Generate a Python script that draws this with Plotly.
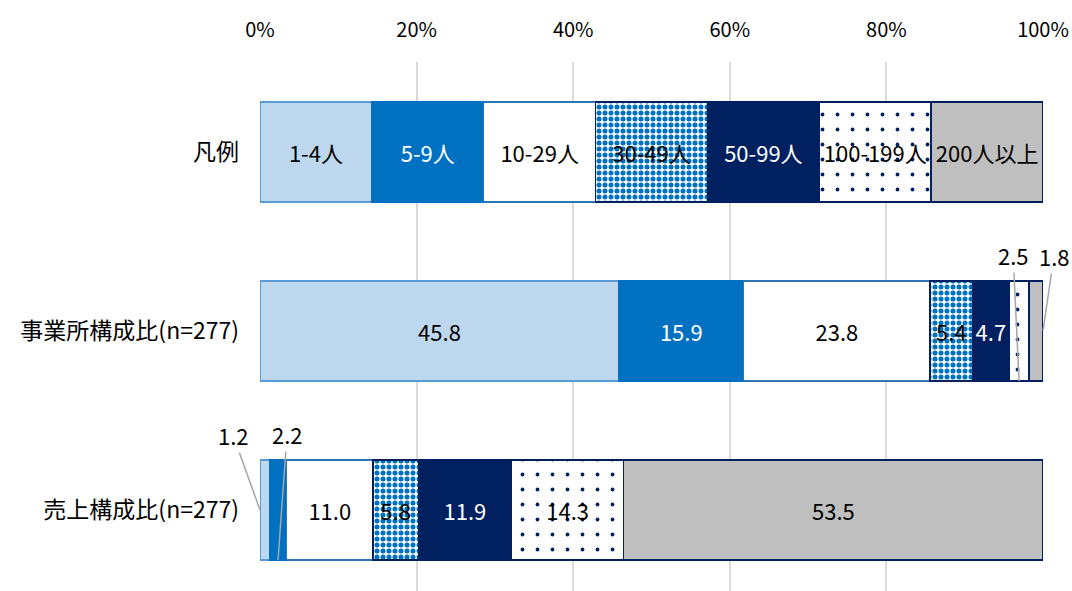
import plotly.graph_objects as go

# ---- data ----
row_labels = ["凡例", "事業所構成比(n=277)", "売上構成比(n=277)"]
size_classes = ["1-4人", "5-9人", "10-29人", "30-49人", "50-99人", "100-199人", "200人以上"]
legend_share = [1, 1, 1, 1, 1, 1, 1]
office_share = [45.8, 15.9, 23.8, 5.4, 4.7, 2.5, 1.8]
sales_share = [1.2, 2.2, 11.0, 5.8, 11.9, 14.3, 53.5]
x_ticks = [0, 20, 40, 60, 80, 100]
x_tick_labels = ["0%", "20%", "40%", "60%", "80%", "100%"]

# ---- styles ----
fills = ["#BDD7EE", "#0070C0", "#FFFFFF", "#FFFFFF", "#002060", "#FFFFFF", "#BFBFBF"]
outlines = ["#5B9BD5", "#0070C0", "#2E75B6", "#002060", "#002060", "#002060", "#002060"]
text_colors = ["black", "white", "black", "black", "white", "black", "black"]
patterns = [
    None, None, None,
    dict(shape=".", fgcolor="#0070C0", bgcolor="#FFFFFF", size=6, solidity=0.55, fillmode="replace"),
    None,
    dict(shape=".", fgcolor="#002060", bgcolor="#FFFFFF", size=15, solidity=0.05, fillmode="replace"),
    None,
]
FONT = "Noto Sans CJK JP"
BAR_W = 0.56
SMALL = 3.0

fig = go.Figure()
ypos = [0, 1, 2]
for i, name in enumerate(size_classes):
    vals = [legend_share[i], office_share[i], sales_share[i]]
    texts = [name]
    for v in (office_share[i], sales_share[i]):
        texts.append("" if v < SMALL else f"{v:.1f}")
    marker = dict(color=fills[i], line=dict(color=outlines[i], width=1.5))
    if patterns[i] is not None:
        marker["pattern"] = patterns[i]
    fig.add_trace(go.Bar(
        name=name, x=vals, y=ypos, orientation="h", width=BAR_W,
        marker=marker, text=texts, texttemplate="%{text}",
        textposition="inside", insidetextanchor="middle", textangle=0,
        insidetextfont=dict(color=text_colors[i], size=22, family=FONT),
        constraintext="none", hoverinfo="skip", showlegend=False,
    ))

# ---- leader-line labels for small segments ----
def centers(vals):
    tot = sum(vals)
    out, c = [], 0.0
    for v in vals:
        out.append((c + v / 2) / tot * 100)
        c += v
    return out

oc = centers(office_share)
sc = centers(sales_share)
lead = dict(showarrow=True, arrowhead=0, arrowcolor="#A6A6A6", arrowwidth=1.5,
            standoff=0, font=dict(size=22, color="black", family=FONT),
            xref="x", yref="y", axref="pixel", ayref="pixel")
fig.add_annotation(x=oc[5], y=1 + BAR_W / 2, text=f"{office_share[5]:.1f}", ax=-6, ay=-126, **lead)
fig.add_annotation(x=100, y=1, text=f"{office_share[6]:.1f}", ax=11, ay=-75, **lead)
fig.add_annotation(x=0, y=2, text=f"{sales_share[0]:.1f}", ax=-27, ay=-75, **lead)
fig.add_annotation(x=sc[1], y=2 + BAR_W / 2, text=f"{sales_share[1]:.1f}", ax=9, ay=-126, **lead)

fig.update_layout(
    width=1072, height=591,
    margin=dict(l=260, r=29, t=62, b=0),
    barmode="stack", barnorm="percent",
    plot_bgcolor="white", paper_bgcolor="white",
    font=dict(family=FONT, size=20, color="black"),
    uniformtext=dict(minsize=22, mode="show"),
    bargap=0.44,
)
fig.update_xaxes(
    side="top", range=[0, 100], tickmode="array", tickvals=x_ticks, ticktext=x_tick_labels,
    showgrid=True, gridcolor="#D9D9D9", gridwidth=1.5, zeroline=False,
    showline=False, ticks="", ticklabelstandoff=20,
    tickfont=dict(size=20, color="black", family=FONT), fixedrange=True,
)
fig.update_yaxes(
    range=[2.453, -0.503], tickvals=ypos, ticktext=row_labels,
    showgrid=False, zeroline=False, showline=False, ticks="",
    ticklabelstandoff=20, tickfont=dict(size=23, color="black", family=FONT),
)

fig.write_html("out.html", config={"displayModeBar": False},
               post_script="document.body.style.margin='0';document.body.style.overflow='hidden';")
